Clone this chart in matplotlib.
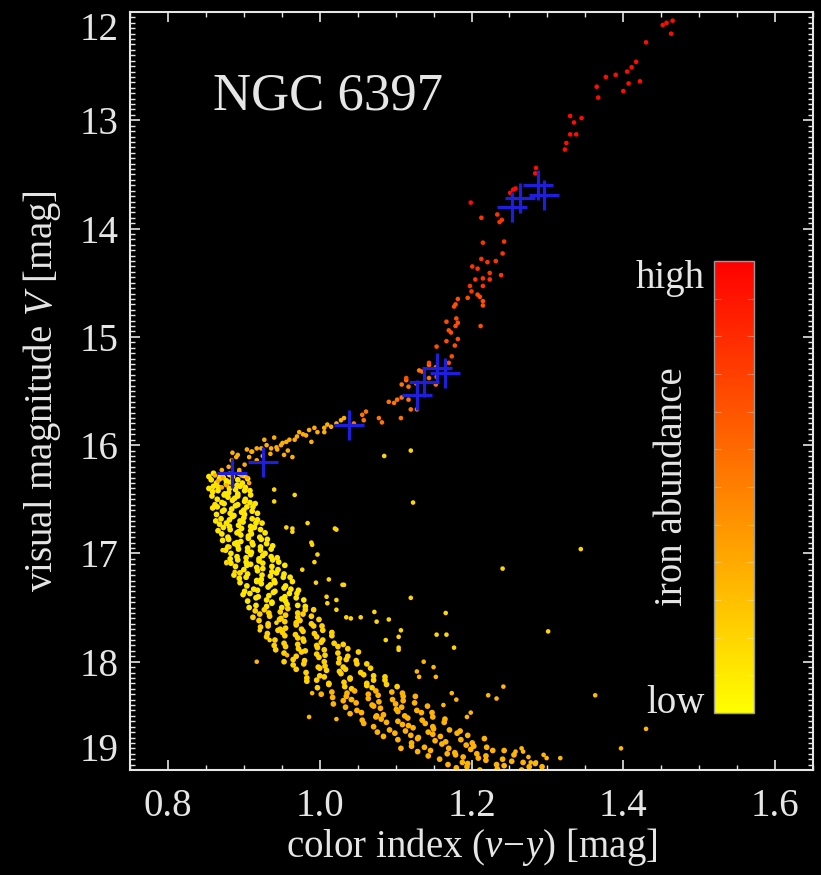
import numpy as np
import matplotlib
matplotlib.use('Agg')
import matplotlib.pyplot as plt
from matplotlib.ticker import MultipleLocator
from matplotlib.colors import Normalize

plt.rcParams['font.family'] = ['Liberation Serif', 'DejaVu Serif']
plt.rcParams['mathtext.fontset'] = 'custom'
plt.rcParams['mathtext.rm'] = 'Liberation Serif'
plt.rcParams['mathtext.it'] = 'Liberation Serif:italic'

# --- star data: colour index (v-y) and visual magnitude V ---
rgb_top_vy = [1.457, 1.465, 1.463, 1.452, 1.430, 1.417, 1.411, 1.405, 1.390, 1.377,
              1.365, 1.367, 1.400, 1.407, 1.422, 1.330, 1.345, 1.335, 1.330, 1.338,
              1.325, 1.323, 1.285, 1.284, 1.255, 1.251, 1.258, 1.199]
rgb_top_v = [12.10, 12.08, 12.20, 12.12, 12.28, 12.46, 12.51, 12.55, 12.58, 12.60,
             12.69, 12.79, 12.73, 12.66, 12.64, 12.96, 12.98, 13.02, 13.13, 13.13,
             13.21, 13.27, 13.44, 13.49, 13.64, 13.67, 13.63, 13.76]

rgb_upper_vy = [1.234, 1.213, 1.237, 1.240, 1.215, 1.243, 1.241, 1.213, 1.221, 1.232,
                1.201, 1.208, 1.224, 1.239, 1.215, 1.205, 1.224, 1.215, 1.198, 1.200]
rgb_upper_v = [13.87, 13.90, 13.94, 13.92, 14.13, 14.12, 14.23, 14.28, 14.31, 14.30,
               14.35, 14.37, 14.41, 14.43, 14.46, 14.47, 14.47, 14.53, 14.53, 14.58]

rgb_lower_vy = [1.208, 1.211, 1.215, 1.215, 1.195, 1.182, 1.179, 1.177, 1.180, 1.182,
                1.179, 1.167, 1.212, 1.170, 1.173, 1.167, 1.182, 1.178, 1.154, 1.174,
                1.170, 1.144, 1.154, 1.114]
rgb_lower_v = [14.61, 14.63, 14.67, 14.71, 14.64, 14.65, 14.70, 14.72, 14.83, 14.87,
               14.90, 14.86, 14.90, 14.94, 14.96, 15.04, 15.02, 15.08, 15.09, 15.18,
               15.24, 15.24, 15.37, 15.38]

sgb_red_vy = [1.144, 1.153, 1.131, 1.135, 1.114, 1.108, 1.117, 1.127, 1.144, 1.153,
              1.091, 1.098, 1.102, 1.108, 1.117, 1.120, 1.128, 1.107, 1.078, 1.082,
              1.056, 1.061, 1.058, 1.045]
sgb_red_v = [15.26, 15.28, 15.31, 15.32, 15.40, 15.44, 15.46, 15.43, 15.38, 15.44,
             15.60, 15.61, 15.58, 15.56, 15.58, 15.67, 15.67, 15.75, 15.75, 15.79,
             15.72, 15.69, 15.77, 15.80]

sgb_vy = [1.028, 1.022, 1.006, 1.006, 0.997, 1.010, 0.986, 0.982, 0.970, 0.967,
          0.960, 0.956, 0.989, 0.940, 0.943, 0.936, 0.944, 0.930, 0.923, 0.911,
          0.907, 0.953, 0.964, 0.890, 0.884, 0.917, 0.901, 0.894, 0.897, 0.904,
          0.907, 0.872, 0.877, 0.871, 0.885, 0.885, 0.892, 0.904, 0.910, 0.917,
          0.927, 0.949, 0.973, 0.993, 1.032, 0.871, 0.862, 0.951, 0.978, 1.015,
          0.935, 0.958, 0.925, 0.880, 0.866]
sgb_v = [15.77, 15.80, 15.84, 15.88, 15.88, 15.81, 15.86, 15.91, 15.92, 15.95,
         15.95, 15.97, 15.97, 15.93, 16.02, 16.03, 16.04, 16.00, 16.03, 16.06,
         16.11, 16.09, 16.11, 16.11, 16.14, 16.14, 16.18, 16.23, 16.28, 16.30,
         16.35, 16.30, 16.37, 16.39, 16.29, 16.07, 16.09, 16.04, 16.06, 16.03,
         15.95, 16.00, 15.88, 15.84, 15.75, 16.23, 16.28, 15.98, 15.90, 15.83,
         16.08, 16.05, 16.10, 16.20, 16.33]

ms_upper_vy = [
    0.854, 0.860, 0.869, 0.873, 0.881, 0.885, 0.894, 0.900,
    0.857, 0.864, 0.868, 0.877, 0.883, 0.892, 0.898, 0.905,
    0.854, 0.860, 0.867, 0.877, 0.881, 0.891, 0.895, 0.902,
    0.859, 0.866, 0.875, 0.880, 0.889, 0.892, 0.901, 0.908,
    0.858, 0.865, 0.874, 0.879, 0.888, 0.892, 0.902, 0.909,
    0.862, 0.871, 0.874, 0.885, 0.892, 0.901, 0.908, 0.915,
    0.859, 0.865, 0.874, 0.884, 0.889, 0.900, 0.904, 0.912,
    0.864, 0.872, 0.882, 0.887, 0.897, 0.901, 0.911, 0.918,
    0.863, 0.870, 0.881, 0.885, 0.895, 0.900, 0.911, 0.918,
    0.868, 0.877, 0.881, 0.893, 0.899, 0.909, 0.916, 0.924,
    0.866, 0.873, 0.882, 0.893, 0.897, 0.909, 0.914, 0.922,
    0.871, 0.879, 0.891, 0.896, 0.906, 0.910, 0.921, 0.928,
    0.872, 0.880, 0.891, 0.896, 0.906, 0.911, 0.923, 0.931,
    0.879, 0.888, 0.892, 0.905, 0.912, 0.922, 0.930, 0.938,
    0.876, 0.883, 0.893, 0.905, 0.910, 0.922, 0.928, 0.936,
    0.882, 0.891, 0.903, 0.909, 0.920, 0.925, 0.936, 0.944,
    0.883, 0.892, 0.903, 0.909, 0.920, 0.925, 0.938, 0.946,
    0.889, 0.900, 0.904, 0.917, 0.925, 0.937, 0.945, 0.954,
    0.887, 0.895, 0.905, 0.918, 0.924, 0.937, 0.943, 0.953,
    0.894, 0.903, 0.917, 0.923, 0.935, 0.940, 0.952, 0.961,
    0.895, 0.904, 0.917, 0.923, 0.935, 0.941, 0.955, 0.964,
    0.901, 0.913, 0.918, 0.932, 0.941, 0.953, 0.962, 0.972,
    0.899, 0.908, 0.919, 0.933, 0.939, 0.954, 0.960, 0.970,
    0.905, 0.916, 0.930, 0.937, 0.950, 0.955, 0.969, 0.979,
    0.907, 0.916, 0.930, 0.937, 0.950, 0.957, 0.971, 0.981]
ms_upper_v = [
    16.29, 16.26, 16.28, 16.30, 16.27, 16.29, 16.26, 16.28,
    16.32, 16.35, 16.31, 16.33, 16.34, 16.32, 16.35, 16.31,
    16.40, 16.38, 16.39, 16.36, 16.40, 16.37, 16.38, 16.39,
    16.43, 16.42, 16.45, 16.44, 16.41, 16.45, 16.42, 16.42,
    16.47, 16.50, 16.46, 16.48, 16.49, 16.47, 16.50, 16.46,
    16.55, 16.53, 16.54, 16.51, 16.55, 16.52, 16.53, 16.54,
    16.58, 16.57, 16.60, 16.59, 16.56, 16.60, 16.57, 16.57,
    16.64, 16.61, 16.63, 16.65, 16.62, 16.64, 16.61, 16.63,
    16.70, 16.68, 16.69, 16.66, 16.70, 16.67, 16.68, 16.69,
    16.73, 16.72, 16.75, 16.74, 16.71, 16.75, 16.72, 16.72,
    16.79, 16.76, 16.78, 16.80, 16.77, 16.79, 16.76, 16.78,
    16.82, 16.85, 16.81, 16.83, 16.84, 16.82, 16.85, 16.81,
    16.88, 16.87, 16.90, 16.89, 16.86, 16.90, 16.87, 16.87,
    16.94, 16.91, 16.93, 16.95, 16.92, 16.94, 16.91, 16.93,
    16.97, 17.00, 16.96, 16.98, 16.99, 16.97, 17.00, 16.96,
    17.05, 17.03, 17.04, 17.01, 17.05, 17.02, 17.03, 17.04,
    17.09, 17.06, 17.08, 17.10, 17.07, 17.09, 17.06, 17.08,
    17.12, 17.15, 17.11, 17.13, 17.14, 17.12, 17.15, 17.11,
    17.20, 17.18, 17.19, 17.16, 17.20, 17.17, 17.18, 17.19,
    17.23, 17.22, 17.25, 17.24, 17.21, 17.25, 17.22, 17.22,
    17.27, 17.30, 17.26, 17.28, 17.29, 17.27, 17.30, 17.26,
    17.35, 17.33, 17.34, 17.31, 17.35, 17.32, 17.33, 17.34,
    17.38, 17.37, 17.40, 17.39, 17.36, 17.40, 17.37, 17.37,
    17.44, 17.41, 17.43, 17.45, 17.42, 17.44, 17.41, 17.43,
    17.50, 17.48, 17.49, 17.46, 17.50, 17.47, 17.48, 17.49]

ms_mid_vy = [
    0.915, 0.927, 0.933, 0.948, 0.958, 0.971, 0.981, 0.992,
    0.912, 0.921, 0.934, 0.949, 0.955, 0.971, 0.978, 0.989,
    0.920, 0.932, 0.947, 0.954, 0.969, 0.974, 0.989, 0.999,
    0.922, 0.932, 0.948, 0.955, 0.969, 0.976, 0.992, 1.003,
    0.931, 0.945, 0.951, 0.968, 0.978, 0.993, 1.004, 1.016,
    0.930, 0.941, 0.954, 0.971, 0.978, 0.996, 1.004, 1.016,
    0.940, 0.953, 0.971, 0.979, 0.996, 1.002, 1.019, 1.031,
    0.942, 0.955, 0.972, 0.981, 0.997, 1.006, 1.024, 1.037,
    0.953, 0.969, 0.976, 0.996, 1.007, 1.024, 1.037, 1.051,
    0.953, 0.965, 0.980, 0.999, 1.006, 1.026, 1.035, 1.048,
    0.965, 0.979, 0.998, 1.007, 1.025, 1.031, 1.049, 1.062,
    0.969, 0.982, 1.000, 1.009, 1.026, 1.034, 1.054, 1.067,
    0.983, 1.000, 1.006, 1.028, 1.040, 1.058, 1.071, 1.086,
    0.983, 0.996, 1.012, 1.032, 1.040, 1.062, 1.071, 1.086,
    0.997, 1.012, 1.033, 1.042, 1.062, 1.069, 1.088, 1.102]
ms_mid_v = [
    17.53, 17.52, 17.55, 17.54, 17.51, 17.55, 17.52, 17.52,
    17.59, 17.56, 17.58, 17.60, 17.57, 17.59, 17.56, 17.58,
    17.62, 17.65, 17.61, 17.63, 17.64, 17.62, 17.65, 17.61,
    17.68, 17.67, 17.70, 17.69, 17.66, 17.70, 17.67, 17.67,
    17.74, 17.71, 17.73, 17.75, 17.72, 17.74, 17.71, 17.73,
    17.77, 17.80, 17.76, 17.78, 17.79, 17.77, 17.80, 17.76,
    17.85, 17.83, 17.84, 17.81, 17.85, 17.82, 17.83, 17.84,
    17.89, 17.86, 17.88, 17.90, 17.87, 17.89, 17.86, 17.88,
    17.92, 17.95, 17.91, 17.93, 17.94, 17.92, 17.95, 17.91,
    18.00, 17.98, 17.99, 17.96, 18.00, 17.97, 17.98, 17.99,
    18.03, 18.02, 18.05, 18.04, 18.01, 18.05, 18.02, 18.02,
    18.07, 18.10, 18.06, 18.08, 18.09, 18.07, 18.10, 18.06,
    18.15, 18.13, 18.14, 18.11, 18.15, 18.12, 18.13, 18.14,
    18.18, 18.17, 18.20, 18.19, 18.16, 18.20, 18.17, 18.17,
    18.24, 18.21, 18.23, 18.25, 18.22, 18.24, 18.21, 18.23]

ms_lower_vy = [
    1.002, 1.016, 1.036, 1.046, 1.064, 1.074, 1.095, 1.109,
    1.017, 1.035, 1.042, 1.064, 1.077, 1.096, 1.110, 1.126,
    1.018, 1.031, 1.048, 1.069, 1.078, 1.100, 1.110, 1.125,
    1.034, 1.049, 1.071, 1.080, 1.101, 1.108, 1.128, 1.142,
    1.040, 1.055, 1.075, 1.084, 1.103, 1.112, 1.134, 1.148,
    1.056, 1.074, 1.081, 1.103, 1.116, 1.135, 1.149, 1.165,
    1.058, 1.071, 1.088, 1.109, 1.117, 1.139, 1.149, 1.164,
    1.076, 1.092, 1.113, 1.123, 1.143, 1.150, 1.171, 1.185,
    1.084, 1.099, 1.120, 1.130, 1.149, 1.159, 1.181, 1.195,
    1.103, 1.121, 1.129, 1.152, 1.166, 1.186, 1.201, 1.217,
    1.107, 1.121, 1.138, 1.161, 1.170, 1.193, 1.203, 1.220,
    1.129, 1.146, 1.168, 1.178, 1.199, 1.207, 1.228, 1.243,
    1.143, 1.158, 1.179, 1.189, 1.209, 1.219, 1.241, 1.256,
    1.169, 1.188, 1.195, 1.219, 1.233, 1.253, 1.268, 1.284,
    1.180, 1.194, 1.211, 1.234, 1.243, 1.266, 1.276, 1.293]
ms_lower_v = [
    18.30, 18.28, 18.29, 18.27, 18.30, 18.27, 18.28, 18.29,
    18.33, 18.32, 18.35, 18.34, 18.31, 18.35, 18.32, 18.32,
    18.39, 18.36, 18.38, 18.40, 18.37, 18.39, 18.36, 18.38,
    18.42, 18.45, 18.41, 18.43, 18.44, 18.42, 18.45, 18.41,
    18.48, 18.47, 18.50, 18.49, 18.46, 18.50, 18.47, 18.47,
    18.54, 18.51, 18.53, 18.55, 18.52, 18.54, 18.51, 18.53,
    18.57, 18.60, 18.56, 18.58, 18.59, 18.57, 18.60, 18.56,
    18.65, 18.63, 18.64, 18.61, 18.65, 18.62, 18.63, 18.64,
    18.69, 18.66, 18.68, 18.70, 18.67, 18.69, 18.66, 18.68,
    18.72, 18.75, 18.71, 18.73, 18.74, 18.72, 18.75, 18.71,
    18.80, 18.78, 18.79, 18.76, 18.80, 18.77, 18.78, 18.79,
    18.83, 18.82, 18.85, 18.84, 18.81, 18.85, 18.82, 18.82,
    18.87, 18.90, 18.86, 18.88, 18.89, 18.87, 18.90, 18.86,
    18.95, 18.93, 18.94, 18.91, 18.95, 18.92, 18.93, 18.94,
    18.98, 18.97, 19.00, 18.99, 18.96, 19.00, 18.97, 18.97]

field_upper_vy = [1.085, 1.120, 0.967, 0.940, 0.940, 1.020, 0.989, 0.997, 0.993, 0.964,
                  1.012, 1.032, 1.022, 1.010, 1.072, 1.075, 1.054, 1.041, 1.091, 1.087,
                  1.104, 1.104, 0.877, 0.888, 0.881, 0.921, 0.934, 0.943, 1.123, 1.344,
                  1.241, 1.166, 1.154, 1.167, 1.177, 1.301, 1.120, 0.956, 0.964, 0.984,
                  0.990, 1.022, 0.977, 0.995, 1.009, 1.030, 1.022, 1.035, 0.872, 0.877,
                  0.894, 1.104, 1.107]
field_upper_v = [16.10, 16.05, 16.46, 16.41, 16.52, 16.77, 16.90, 17.01, 17.08, 16.77,
                 17.24, 17.29, 17.43, 17.46, 17.54, 17.63, 17.59, 17.60, 17.61, 17.80,
                 17.77, 17.89, 17.08, 17.17, 16.94, 17.71, 17.80, 17.64, 16.53, 16.96,
                 17.14, 17.55, 17.75, 17.75, 17.87, 17.72, 17.41, 16.76, 16.80, 16.72,
                 16.92, 16.78, 17.15, 17.27, 17.40, 17.29, 17.52, 17.59, 16.97, 17.09,
                 17.18, 17.87, 17.71]

field_lower_vy = [0.917, 0.990, 1.041, 0.986, 1.022, 0.957, 1.137, 1.150, 1.153, 1.242,
                  1.222, 1.233, 1.363, 1.430, 1.397, 1.317, 1.299, 1.285, 1.278, 1.258,
                  1.268, 1.199, 1.194, 1.174, 1.128, 1.131, 1.180, 1.163, 1.266, 1.275,
                  1.295]
field_lower_v = [18.00, 18.29, 18.35, 18.51, 18.53, 17.94, 18.00, 18.05, 18.14, 18.23,
                 18.31, 18.34, 18.31, 18.62, 18.80, 18.89, 18.89, 18.93, 18.93, 18.83,
                 18.83, 18.47, 18.51, 18.29, 18.09, 18.14, 18.35, 18.40, 18.80, 18.88,
                 18.86]

# iron abundance (0 = low, 1 = high) for each group above
group_fe = {'rgb_top': 0.95, 'rgb_upper': 0.80, 'rgb_lower': 0.70, 'sgb_red': 0.55,
            'sgb': 0.32, 'ms_upper': 0.10, 'ms_mid': 0.18, 'ms_lower': 0.30,
            'field_upper': 0.16, 'field_lower': 0.28}

# spectroscopic targets (blue crosses)
target_vy = [0.885, 0.925, 1.039, 1.128, 1.137, 1.154, 1.165, 1.253, 1.264, 1.288, 1.295]
target_v = [16.26, 16.16, 15.81, 15.54, 15.42, 15.29, 15.33, 13.80, 13.72, 13.60, 13.69]

groups = [('ms_upper', ms_upper_vy, ms_upper_v), ('ms_mid', ms_mid_vy, ms_mid_v),
          ('ms_lower', ms_lower_vy, ms_lower_v), ('field_upper', field_upper_vy, field_upper_v),
          ('field_lower', field_lower_vy, field_lower_v), ('sgb', sgb_vy, sgb_v),
          ('sgb_red', sgb_red_vy, sgb_red_v), ('rgb_lower', rgb_lower_vy, rgb_lower_v),
          ('rgb_upper', rgb_upper_vy, rgb_upper_v), ('rgb_top', rgb_top_vy, rgb_top_v)]

fg = '#e6e6e6'
cmap = plt.get_cmap('autumn_r')

fig = plt.figure(figsize=(8.21, 8.75), dpi=100, facecolor='black')
ax = fig.add_axes([130/821, 1 - 770/875, 683/821, 758/875])
ax.set_facecolor('black')

for name, xs, vs in groups:
    size = 17 if name.startswith('ms') else 11
    ax.scatter(xs, vs, s=size, color=cmap(group_fe[name]), edgecolors='none', zorder=2)

ax.plot(target_vy, target_v, '+', color='#1e1edc', ms=22, mew=2.3, zorder=3)

ax.set_xlim(0.75, 1.65)
ax.set_ylim(19, 12)
ax.xaxis.set_minor_locator(MultipleLocator(0.05))
ax.yaxis.set_minor_locator(MultipleLocator(0.05))
ax.set_xticks([0.8, 1.0, 1.2, 1.4, 1.6])
ax.set_xticklabels(['0.8', '1.0', '1.2', '1.4', '1.6'])
ax.set_yticks(range(12, 20))

ax.tick_params(which='both', direction='in', top=True, right=True, colors=fg,
               labelsize=28)
ax.tick_params(which='major', length=7.5, width=1.2)
ax.tick_params(which='minor', length=3.6, width=1.0)
ax.tick_params(axis='x', pad=13)
ax.tick_params(axis='y', pad=8)
for sp in ax.spines.values():
    sp.set_color(fg)
    sp.set_linewidth(1.5)

ylabels = ax.get_yticklabels()
ylabels[0].set_va('top')
ylabels[-1].set_va('bottom')

ax.set_xlabel(r'color index ($v\!-\!y$) [mag]', fontsize=28, color=fg, labelpad=1)
ax.set_ylabel(r'visual magnitude $V$ [mag]', fontsize=28, color=fg, labelpad=12)

ax.text(0.859, 12.905, 'NGC 6397', fontsize=38, color=fg, ha='left', va='baseline')

# colour bar drawn inside the plot
cax = fig.add_axes([714/821, 1 - 713/875, 40/821, 452/875])
cb = fig.colorbar(plt.cm.ScalarMappable(norm=Normalize(0, 1), cmap=cmap), cax=cax)
cb.outline.set_edgecolor('#999999')
cb.outline.set_linewidth(1.0)
cb.set_ticks(np.linspace(0, 1, 13))
cax.tick_params(which='both', direction='in', left=True, right=True, length=5,
                width=0.8, color=(1, 1, 1, 0.3), labelleft=False, labelright=False)

fig.text(705/821, 1 - 260/875, 'high', fontsize=28, color=fg, ha='right', va='top')
fig.text(705/821, 1 - 713/875, 'low', fontsize=28, color=fg, ha='right', va='baseline')
fig.text(672/821, 1 - 487/875, 'iron abundance', fontsize=28, color=fg,
         ha='center', va='center', rotation=90)

fig.savefig('out.png', dpi=100, facecolor='black')
